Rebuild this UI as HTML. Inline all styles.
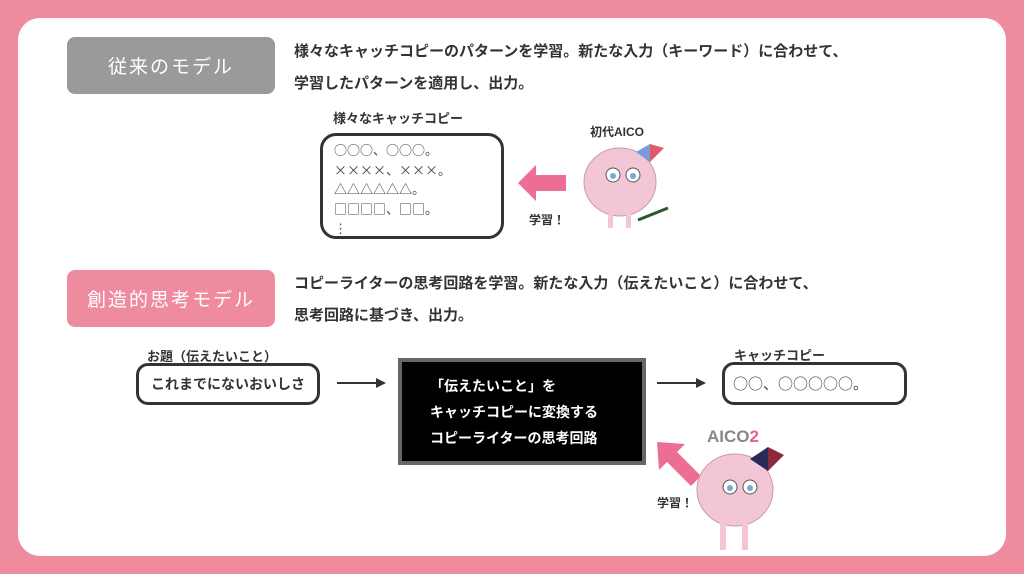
<!DOCTYPE html>
<html><head><meta charset="utf-8"><style>
body{margin:0;width:1024px;height:574px;background:#ef8b9f;position:relative;overflow:hidden;font-family:"Liberation Sans","Noto Sans CJK JP",sans-serif;color:#333}
.a{position:absolute}
.panel{left:18px;top:18px;width:988px;height:538px;background:#fff;border-radius:22px}
.pill{width:208px;height:57px;border-radius:8px;color:#fff;font-size:19px;letter-spacing:2px;display:flex;align-items:center;justify-content:center}
.t{font-size:15px;font-weight:bold;white-space:nowrap}
.box{border:3px solid #333;border-radius:12px;background:#fff;box-sizing:border-box}
.ln{height:2px;background:#333}
.hd{width:0;height:0;border-top:5px solid transparent;border-bottom:5px solid transparent;border-left:10px solid #333}
.cjk{font-family:"Noto Sans CJK JP",sans-serif}
</style></head><body>
<div class="a panel"></div>
<div class="a pill" style="left:67px;top:37px;background:#9a9a9a">従来のモデル</div>
<div class="a pill" style="left:67px;top:270px;background:#ef8b9f">創造的思考モデル</div>
<div class="a t" style="left:294px;top:40px">様々なキャッチコピーのパターンを学習。新たな入力（キーワード）に合わせて、</div>
<div class="a t" style="left:294px;top:72px">学習したパターンを適用し、出力。</div>
<div class="a t" style="left:294px;top:272px">コピーライターの思考回路を学習。新たな入力（伝えたいこと）に合わせて、</div>
<div class="a t" style="left:294px;top:304px">思考回路に基づき、出力。</div>

<div class="a t" style="left:333px;top:108px;font-size:13px">様々なキャッチコピー</div>
<div class="a box cjk" style="left:320px;top:133px;width:184px;height:106px;border-radius:16px;padding:4px 11px;font-size:13px;line-height:19.5px;color:#444;white-space:nowrap">○○○、○○○。<br>××××、×××。<br>△△△△△△。<br>□□□□、□□。<br>⋮</div>
<svg class="a" style="left:518px;top:165px" width="50" height="36"><polygon points="0,18 18,0 18,10 48,10 48,26 18,26 18,36" fill="#ec6f93"/></svg>
<div class="a t" style="left:529px;top:211px;font-size:12px">学習！</div>
<div class="a t" style="left:590px;top:123px;font-size:12px">初代AICO</div>
<svg class="a" style="left:578px;top:140px" width="95" height="90">
<ellipse cx="42" cy="42" rx="36" ry="34" fill="#f3c6d6" stroke="#c99aab"/>
<rect x="30" y="70" width="5" height="18" fill="#f3c6d6"/><rect x="48" y="70" width="5" height="18" fill="#f3c6d6"/>
<circle cx="35" cy="35" r="7" fill="#fff" stroke="#555"/><circle cx="55" cy="35" r="7" fill="#fff" stroke="#555"/>
<circle cx="35" cy="36" r="3" fill="#7ac"/><circle cx="55" cy="36" r="3" fill="#7ac"/>
<polygon points="58,12 72,4 72,22" fill="#7a9ad8"/><polygon points="86,8 72,4 72,22" fill="#e05a6a"/>
<line x1="60" y1="80" x2="90" y2="68" stroke="#2a5a2a" stroke-width="3"/>
</svg>

<div class="a t" style="left:147px;top:346px;font-size:13px">お題（伝えたいこと）</div>
<div class="a box" style="left:136px;top:363px;width:184px;height:42px;font-size:14px;font-weight:bold;line-height:36px;text-align:center">これまでにないおいしさ</div>
<div class="a ln" style="left:337px;top:382px;width:40px"></div><div class="a hd" style="left:376px;top:378px"></div>
<div class="a" style="left:398px;top:358px;width:248px;height:107px;background:#000;border:4px solid #666;box-sizing:border-box;color:#fff;font-size:14px;font-weight:bold;line-height:26px;padding:11px 0 0 28px">「伝えたいこと」を<br>キャッチコピーに変換する<br>コピーライターの思考回路</div>
<div class="a ln" style="left:657px;top:382px;width:40px"></div><div class="a hd" style="left:696px;top:378px"></div>
<div class="a t" style="left:734px;top:345px;font-size:13px">キャッチコピー</div>
<div class="a box cjk" style="left:722px;top:362px;width:185px;height:43px;font-size:15px;line-height:37px;padding-left:8px;color:#444;white-space:nowrap">○○、○○○○○。</div>
<svg class="a" style="left:655px;top:440px" width="50" height="50"><polygon points="2,2 30,4 22,12 46,36 36,46 12,22 4,30" fill="#ec6f93"/></svg>
<div class="a t" style="left:657px;top:494px;font-size:12px">学習！</div>
<div class="a" style="left:707px;top:427px;font-size:17px;font-weight:900;color:#888">AICO<span style="color:#ec5f8a">2</span></div>
<svg class="a" style="left:690px;top:445px" width="100" height="110">
<ellipse cx="45" cy="45" rx="38" ry="36" fill="#f3c6d6" stroke="#c99aab"/>
<rect x="30" y="75" width="6" height="30" fill="#f3c6d6"/><rect x="52" y="75" width="6" height="30" fill="#f3c6d6"/>
<circle cx="40" cy="42" r="7" fill="#fff" stroke="#555"/><circle cx="60" cy="42" r="7" fill="#fff" stroke="#555"/>
<circle cx="40" cy="43" r="3" fill="#7ac"/><circle cx="60" cy="43" r="3" fill="#7ac"/>
<polygon points="60,14 78,2 78,26" fill="#2a2a5a"/><polygon points="94,10 78,2 78,26" fill="#8a2a3a"/>
</svg>
</body></html>
